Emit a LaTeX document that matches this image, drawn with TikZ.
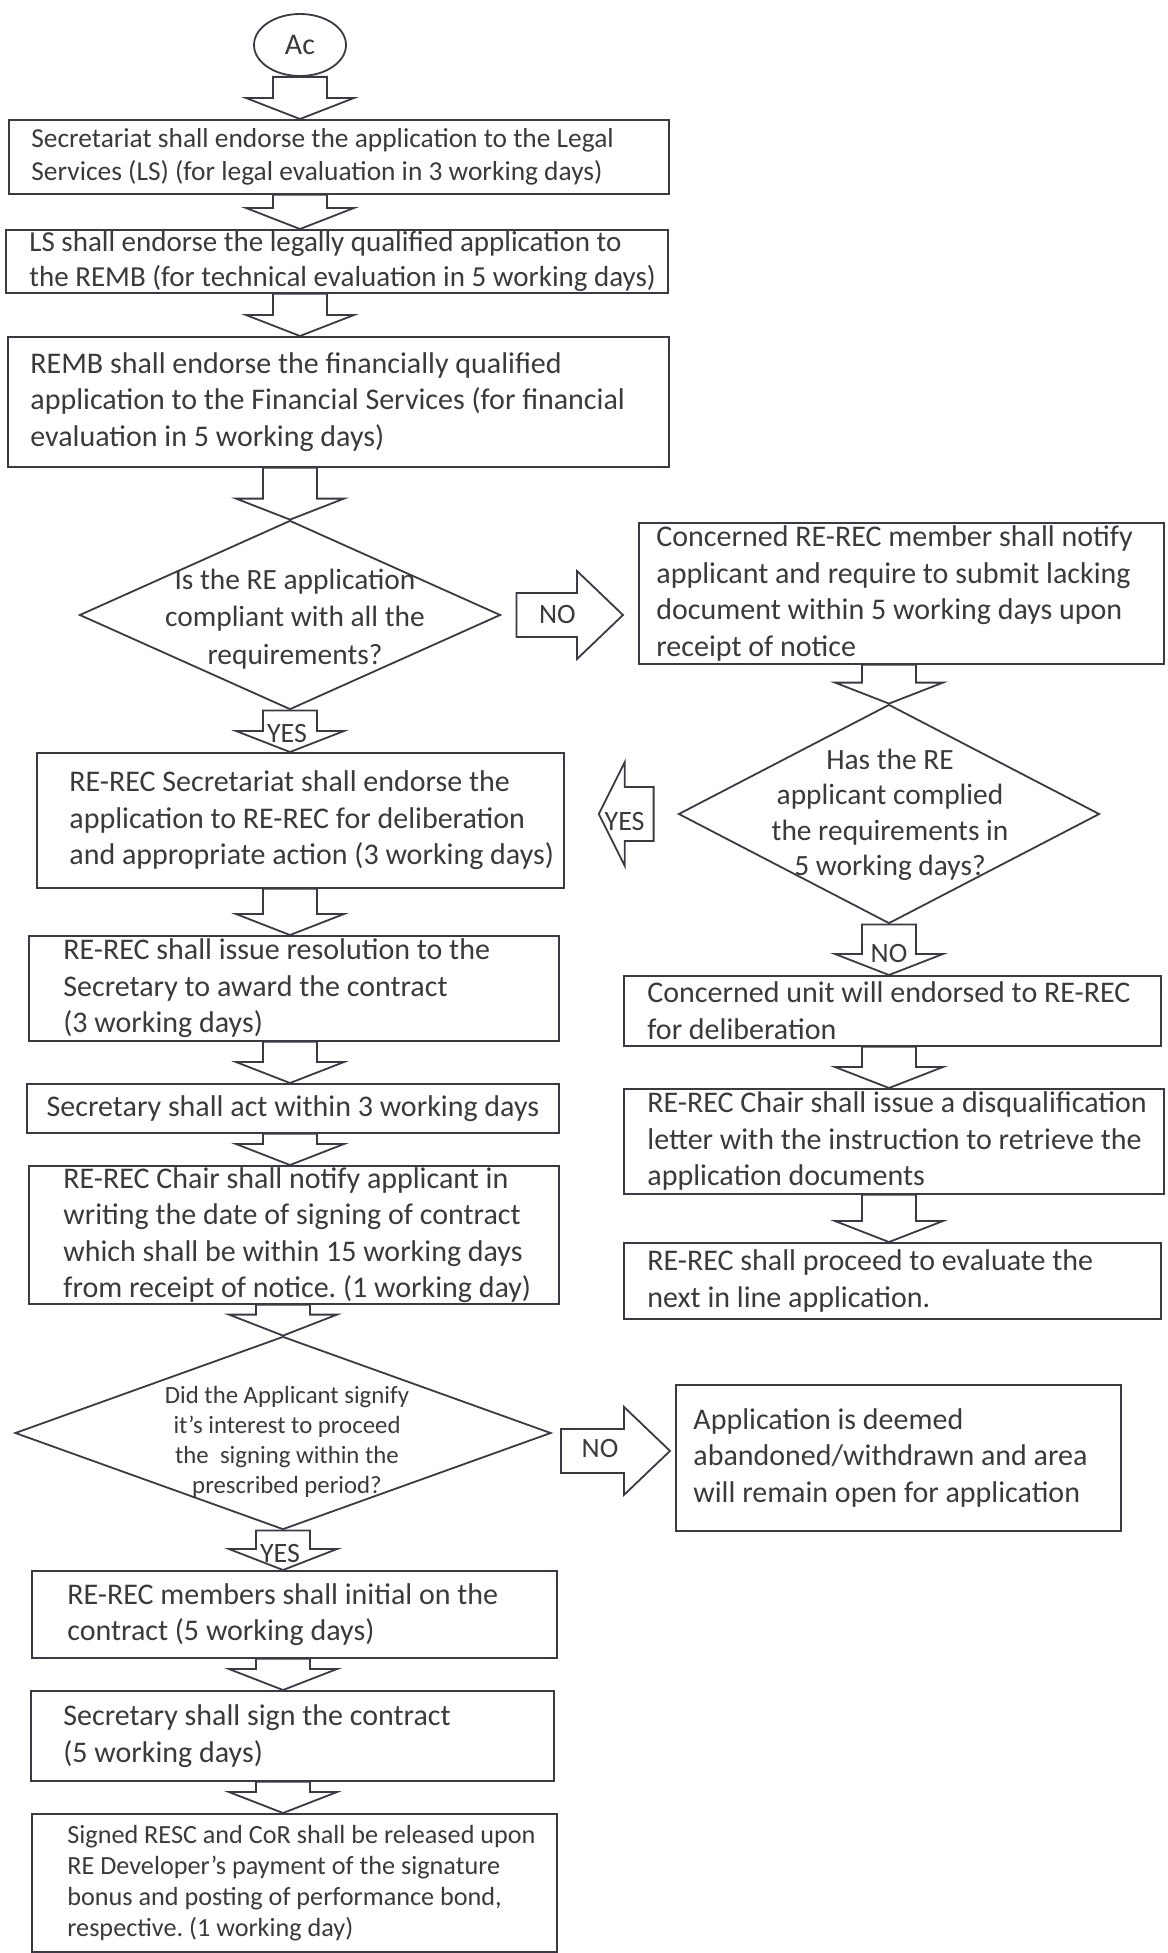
\documentclass[tikz,border=0pt]{standalone}
\usepackage{fontspec}
\setmainfont{Carlito}
\frenchspacing
\usetikzlibrary{shapes.geometric,positioning,calc}
\definecolor{ink}{HTML}{3A3A44}
\definecolor{txtc}{HTML}{3A3A3A}
\newcommand{\setfs}[2]{\fontsize{#1}{#2}\selectfont}
\tikzset{
  box/.style={draw=ink, line width=0.9pt, anchor=north west, inner sep=0pt},
  decision/.style={diamond, draw=ink, line width=0.9pt, inner sep=0pt},
  txt/.style={align=left, inner sep=0pt, text=txtc, font=\setfs{15}{18.25}},
  flowlabel/.style={inner sep=0pt, text=txtc, font=\setfs{14}{16}},
  flow/.style={draw=ink, line width=0.9pt},
  down flow/.style={to path={let \p1=(\tikztostart), \p2=(\tikztotarget) in
    (\x1-13.5pt,\y1) -- (\x1-13.5pt,\y2+10.5pt) -- (\x1-27pt,\y2+10.5pt) -- (\x1,\y2)
    -- (\x1+27pt,\y2+10.5pt) -- (\x1+13.5pt,\y2+10.5pt) -- (\x1+13.5pt,\y1) -- cycle}},
  right flow/.style={to path={let \p1=(\tikztostart), \p2=(\tikztotarget) in
    (\x1,\y1+11pt) -- (\x2-23pt,\y1+11pt) -- (\x2-23pt,\y1+22pt) -- (\x2,\y1)
    -- (\x2-23pt,\y1-22pt) -- (\x2-23pt,\y1-11pt) -- (\x1,\y1-11pt) -- cycle}},
  left flow/.style={to path={let \p1=(\tikztostart), \p2=(\tikztotarget) in
    (\x1,\y1+13.5pt) -- (\x2+13pt,\y1+13.5pt) -- (\x2+13pt,\y1+26pt) -- (\x2,\y1)
    -- (\x2+13pt,\y1-26pt) -- (\x2+13pt,\y1-13.5pt) -- (\x1,\y1-13.5pt) -- cycle}}
}
\begin{document}
\begin{tikzpicture}[x=0.5pt, y=-0.5pt]
\useasboundingbox (0,0) rectangle (1167,1953);
\node[draw=ink, line width=0.9pt, ellipse, minimum width=46pt, minimum height=31pt, inner sep=0pt, text=txtc, font=\setfs{15}{18}] (ac) at (300,45) {Ac};
% left column
\node[box, minimum width=330pt, minimum height=37pt] (b1) at (8,119) {};
\node[txt, font=\setfs{13.7}{16.5}, right=11.5pt of b1.west] (t1) {Secretariat shall endorse the application to the Legal\\Services (LS) (for legal evaluation in 3 working days)};
\node[box, minimum width=331pt, minimum height=31.5pt] (b2) at (5,229) {};
\node[txt, font=\setfs{14.5}{17.5}, right=12pt of b2.west] (t2) {LS shall endorse the legally qualified application to\\the REMB (for technical evaluation in 5 working days)};
\node[box, minimum width=330.5pt, minimum height=65pt] (b3) at (7,336) {};
\node[txt, right=11.5pt of b3.west] (t3) {REMB shall endorse the financially qualified\\application to the Financial Services (for financial\\evaluation in 5 working days)};
\node[decision, minimum width=210.5pt, minimum height=94.5pt] (d1) at (290,615) {};
\node[txt, align=center, font=\setfs{14.7}{18.7}] (dt1) at ($(d1)+(5,4)$) {Is the RE application\\compliant with all the\\requirements?};
\node[box, minimum width=263.5pt, minimum height=67.5pt] (b5) at (36,752) {};
\node[txt, right=16.5pt of b5.west] (t5) {RE-REC Secretariat shall endorse the\\application to RE-REC for deliberation\\and appropriate action (3 working days)};
\node[box, minimum width=265pt, minimum height=52.5pt] (b6) at (28,935) {};
\node[txt, right=17.5pt of b6.west] (t6) {RE-REC shall issue resolution to the\\Secretary to award the contract\\(3 working days)};
\node[box, minimum width=266pt, minimum height=24.5pt] (b7) at (26,1083) {};
\node[txt] (t7) at (b7) {Secretary shall act within 3 working days};
\node[box, minimum width=265pt, minimum height=69pt] (b8) at (28,1165) {};
\node[txt, right=17.5pt of b8.west] (t8) {RE-REC Chair shall notify applicant in\\writing the date of signing of contract\\which shall be within 15 working days\\from receipt of notice. (1 working day)};
\node[decision, minimum width=268pt, minimum height=96.5pt] (d3) at (283,1433) {};
\node[txt, align=center, font=\setfs{12.4}{15}] (dt3) at ($(d3)+(4,9)$) {Did the Applicant signify\\it’s interest to proceed\\the\ \ signing within the\\prescribed period?};
\node[box, minimum width=262.5pt, minimum height=43.5pt] (b13) at (31,1570) {};
\node[txt, right=18pt of b13.west] (t13) {RE-REC members shall initial on the\\contract (5 working days)};
\node[box, minimum width=261.5pt, minimum height=45pt] (b14) at (30,1690) {};
\node[txt, right=16.5pt of b14.west] (t14) {Secretary shall sign the contract\\(5 working days)};
\node[box, minimum width=262.5pt, minimum height=69pt] (b15) at (31,1813) {};
\node[txt, font=\setfs{13.1}{15.5}, right=18pt of b15.west] (t15) {Signed RESC and CoR shall be released upon\\RE Developer’s payment of the signature\\bonus and posting of performance bond,\\respective. (1 working day)};
% right column
\node[box, minimum width=262.5pt, minimum height=70.5pt] (b4) at (638,522) {};
\node[txt, right=9pt of b4.west] (t4) {Concerned RE-REC member shall notify\\applicant and require to submit lacking\\document within 5 working days upon\\receipt of notice};
\node[decision, minimum width=210.5pt, minimum height=109.5pt] (d2) at (889,814) {};
\node[txt, align=center, font=\setfs{14.7}{17.7}] (dt2) at ($(d2)+(1,1)$) {Has the RE\\applicant complied\\the requirements in\\5 working days?};
\node[box, minimum width=268.5pt, minimum height=35pt] (b9) at (623,975) {};
\node[txt, right=12pt of b9.west] (t9) {Concerned unit will endorsed to RE-REC\\for deliberation};
\node[box, minimum width=270pt, minimum height=52.5pt] (b10) at (623,1088) {};
\node[txt, right=12pt of b10.west] (t10) {RE-REC Chair shall issue a disqualification\\letter with the instruction to retrieve the\\application documents};
\node[box, minimum width=268.5pt, minimum height=38pt] (b11) at (623,1242) {};
\node[txt, right=12pt of b11.west] (t11) {RE-REC shall proceed to evaluate the\\next in line application.};
\node[box, minimum width=222.5pt, minimum height=73pt] (b12) at (675,1384) {};
\node[txt, right=9pt of b12.west] (t12) {Application is deemed\\abandoned/withdrawn and area\\will remain open for application};
% block arrows
\draw[flow] (ac.south) to[down flow] (b1.north -| ac);
\draw[flow] (b1.south -| ac) to[down flow] (b2.north -| ac);
\draw[flow] (b2.south -| ac) to[down flow] (b3.north -| ac);
\draw[flow] (b3.south -| d1) to[down flow] (d1.north);
\draw[flow] (d1.south) to[down flow] (b5.north -| d1);
\draw[flow] (b5.south -| d1) to[down flow] (b6.north -| d1);
\draw[flow] (b6.south -| d1) to[down flow] (b7.north -| d1);
\draw[flow] (b7.south -| d1) to[down flow] (b8.north -| d1);
\draw[flow] (b8.south -| d3) to[down flow] (d3.north);
\draw[flow] (d3.south) to[down flow] (b13.north -| d3);
\draw[flow] (b13.south -| d3) to[down flow] (b14.north -| d3);
\draw[flow] (b14.south -| d3) to[down flow] (b15.north -| d3);
\draw[flow] (b4.south -| d2) to[down flow] (d2.north);
\draw[flow] (d2.south) to[down flow] (b9.north -| d2);
\draw[flow] (b9.south -| d2) to[down flow] (b10.north -| d2);
\draw[flow] (b10.south -| d2) to[down flow] (b11.north -| d2);
\draw[flow] ($(d1.east)+(15,0)$) to[right flow] ($(b4.west |- d1.east)+(-15,0)$);
\draw[flow] ($(d2.west)+(-24,0)$) to[left flow] ($(b5.east |- d2.west)+(34,0)$);
\draw[flow] ($(d3.east |- b12.west)+(9,-7)$) to[right flow] ($(b12.west)+(-5,-7)$);
% labels
\node[flowlabel] (no1) at ($(d1.east)+(56,0)$) {NO};
\node[flowlabel] (yes1) at ($(d1.south)+(-3,23)$) {YES};
\node[flowlabel] (yes2) at ($(d2.west)+(-53,8)$) {YES};
\node[flowlabel] (no3) at ($(d2.south)+(0,29)$) {NO};
\node[flowlabel] (no2) at ($(b12.west)+(-75,-9)$) {NO};
\node[flowlabel] (yes3) at ($(d3.south)+(-3,23)$) {YES};
\end{tikzpicture}
\end{document}
